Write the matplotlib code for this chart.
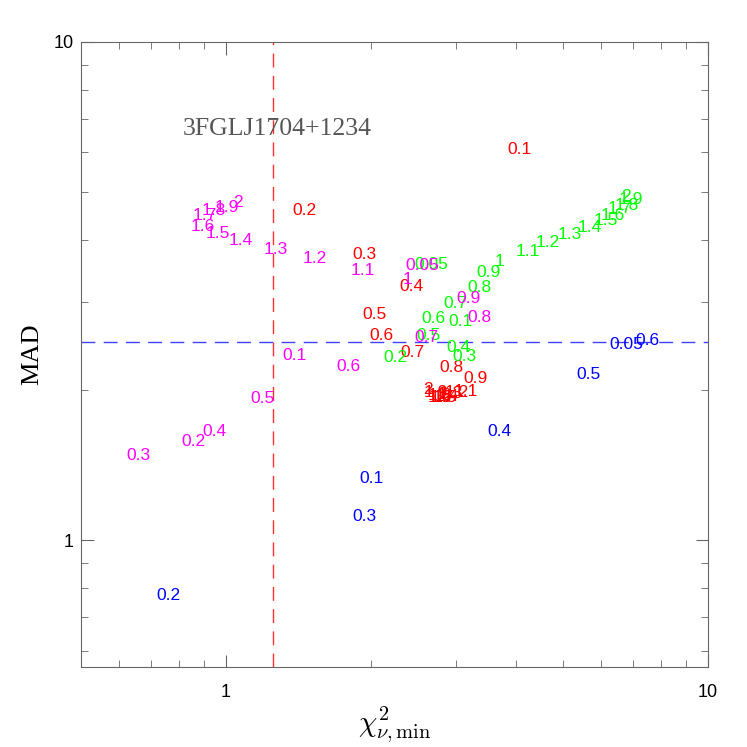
import matplotlib
matplotlib.use("Agg")
import matplotlib.pyplot as plt
from matplotlib.ticker import LogLocator, NullFormatter, FixedLocator, FixedFormatter

plt.rcParams['mathtext.fontset'] = 'cm'

# blue series
blue_lab = ["0.2", "0.3", "0.1", "0.4", "0.5", "0.05", "0.6"]
blue_x = [0.761, 1.94, 2.005, 3.70, 5.65, 6.78, 7.50]
blue_y = [0.775, 1.117, 1.332, 1.655, 2.145, 2.475, 2.52]

# red series
red_lab = ["0.1", "0.2", "0.3", "0.4", "0.5", "0.6", "0.7", "0.8", "0.9",
           "2", "1.9", "1.8", "1.7", "1.6", "1.5", "1.4", "1.3", "1.2", "1", "1.1"]
red_x = [4.06, 1.454, 1.94, 2.42, 2.03, 2.10, 2.44, 2.93, 3.29,
         2.62, 2.725, 2.78, 2.80, 2.77, 2.85, 2.87, 2.93, 3.01, 2.80, 3.15]
red_y = [6.07, 4.58, 3.75, 3.236, 2.84, 2.58, 2.375, 2.225, 2.115,
         2.01, 1.98, 1.955, 1.937, 1.93, 1.93, 1.945, 1.965, 1.98, 1.96, 1.99]

# green series
green_lab = ["0.05", "0.1", "0.2", "0.3", "0.4", "0.5", "0.6", "0.7", "0.8", "0.9", "1",
             "1.1", "1.2", "1.3", "1.4", "1.5", "1.6", "1.7", "1.8", "1.9", "2"]
green_x = [2.67, 3.07, 2.25, 3.12, 3.04, 2.63, 2.69, 2.985, 3.35, 3.51, 3.69,
           4.22, 4.64, 5.16, 5.68, 6.13, 6.34, 6.56, 6.78, 6.91, 6.75]
green_y = [3.57, 2.75, 2.33, 2.34, 2.44, 2.58, 2.78, 2.99, 3.22, 3.44, 3.62,
           3.79, 3.95, 4.10, 4.25, 4.39, 4.49, 4.64, 4.69, 4.82, 4.89]

# magenta series
mag_lab = ["0.05", "0.1", "0.2", "0.3", "0.4", "0.5", "0.6", "0.7", "0.8", "0.9", "1",
           "1.1", "1.2", "1.3", "1.4", "1.5", "1.6", "1.7", "1.8", "1.9", "2"]
mag_x = [2.55, 1.386, 0.854, 0.659, 0.944, 1.189, 1.796, 2.61, 3.35, 3.18, 2.38,
         1.92, 1.53, 1.265, 1.074, 0.962, 0.895, 0.904, 0.944, 1.005, 1.059]
mag_y = [3.55, 2.35, 1.58, 1.48, 1.648, 1.92, 2.235, 2.545, 2.80, 3.06, 3.33,
         3.48, 3.67, 3.84, 4.00, 4.12, 4.27, 4.49, 4.58, 4.66, 4.77]

chi2_cut = 1.25
mad_cut = 2.5
source = "3FGLJ1704+1234"

fig = plt.figure(figsize=(7.47, 7.47), dpi=100)
ax = fig.add_axes([0.1084, 0.1071, 0.8394, 0.8367])
ax.set_xscale('log')
ax.set_yscale('log')
ax.set_xlim(0.5, 10)
ax.set_ylim(0.556, 10)

for labs, xs, ys, c in [(blue_lab, blue_x, blue_y, '#0000ff'),
                        (red_lab, red_x, red_y, '#ff0000'),
                        (green_lab, green_x, green_y, '#00ff00'),
                        (mag_lab, mag_x, mag_y, '#ff00ff')]:
    for t, x, y in zip(labs, xs, ys):
        ax.text(x, y, t, color=c, fontsize=12.5, ha='center', va='center',
                family='Liberation Sans')

ax.axvline(chi2_cut, color='#ff3030', lw=1, dashes=(10, 6), zorder=0)
ax.axhline(mad_cut, color='#4040ff', lw=1, dashes=(10, 6), zorder=0)

ax.text(0.313, 0.86, source, transform=ax.transAxes, fontsize=18.5,
        family='Liberation Serif', color='#555555', ha='center', va='center')

gray = '#666666'
for s in ax.spines.values():
    s.set_color(gray)
ax.tick_params(which='both', direction='in', top=True, right=True, colors=gray,
               labelcolor='black', labelsize=13)
ax.tick_params(which='major', length=9)
ax.tick_params(which='minor', length=5)
ax.xaxis.set_major_locator(FixedLocator([1, 10]))
ax.xaxis.set_major_formatter(FixedFormatter(["1", "10"]))
ax.yaxis.set_major_locator(FixedLocator([1, 10]))
ax.yaxis.set_major_formatter(FixedFormatter(["1", "10"]))
ax.xaxis.set_minor_locator(LogLocator(subs=range(2, 10)))
ax.yaxis.set_minor_locator(LogLocator(subs=range(2, 10)))
ax.xaxis.set_minor_formatter(NullFormatter())
ax.yaxis.set_minor_formatter(NullFormatter())
for lbl in ax.get_xticklabels() + ax.get_yticklabels():
    lbl.set_family('Liberation Sans')
ax.tick_params(axis='x', pad=12)
ax.tick_params(axis='y', pad=5)

ax.set_xlabel(r'$\chi^2_{\nu,\mathrm{min}}$', fontsize=21, labelpad=3)
ax.set_ylabel('MAD', fontsize=19, family='Liberation Serif', labelpad=8)

fig.savefig('out.png', dpi=100)
